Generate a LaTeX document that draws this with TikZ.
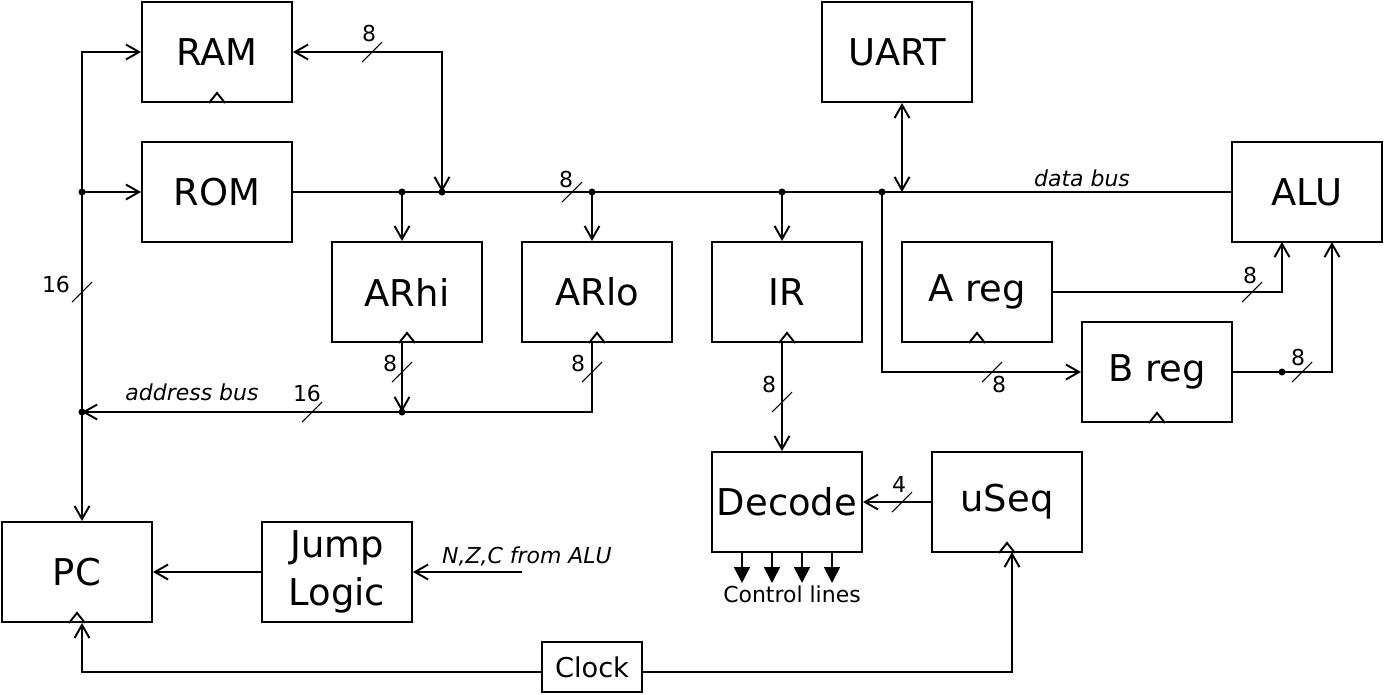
\documentclass[tikz,border=0pt]{standalone}
\usepackage{fontspec}
\setmainfont{DejaVu Sans}
\usepackage{tikz}
\usetikzlibrary{arrows.meta,calc,positioning}
\tikzset{
  >={Straight Barb[length=7.5pt,width=8.5pt]},
  block/.style={rectangle, draw=black, line width=1.1pt, minimum width=3cm,
                minimum height=2cm, inner sep=0pt, text centered,
                font=\fontsize{21}{27}\selectfont},
  clockbox/.style={rectangle, draw=black, line width=1.1pt, minimum width=2cm,
                   minimum height=1cm, inner sep=0pt, font=\fontsize{15.5}{18}\selectfont},
  width/.style={inner sep=0pt, font=\fontsize{12.5}{15}\selectfont},
  busname/.style={inner sep=0pt, font=\fontsize{12.5}{15}\selectfont\itshape},
  tickline/.style={line width=0.6pt},
  ctrl/.style={-{Triangle[length=9pt,width=9pt]}}
}
\newcommand{\clk}[1]{\draw (#1.south) ++(-8,0) -- ++(8,-10) -- ++(8,10);}
\newcommand{\buswidth}[1]{\draw[tickline] #1 +(-10,10) -- +(10,-10);}

\begin{document}
\begin{tikzpicture}[x=0.02cm,y=-0.02cm,line width=1.1pt]
    \useasboundingbox (0,0) rectangle (1384,694);
    % Draw blocks
    \node[block] (ram)  at (217,52)   {RAM};
    \node[block] (rom)  at (217,192)  {ROM};
    \node[block] (arhi) at (407,292)  {ARhi};
    \node[block] (arlo) at (597,292)  {ARlo};
    \node[block] (ir)   at (787,292)  {IR};
    \node[block] (areg) at (977,292)  {A reg};
    \node[block] (breg) at (1157,372) {B reg};
    \node[block] (alu)  at (1307,192) {ALU};
    \node[block] (uart) at (897,52)   {UART};
    \node[block] (dec)  at (787,502)  {Decode};
    \node[block] (useq) at (1007,502) {uSeq};
    \node[block] (pc)   at (77,572)   {PC};
    \node[block,align=center] (jump) at (337,572) {Jump\\Logic};
    \node[clockbox] (clock) at (592,667) {Clock};
    \foreach \b in {ram,arhi,arlo,ir,areg,breg,useq,pc} {\clk{\b}}

    % Bus taps
    \coordinate (dhi)   at (402,192);
    \coordinate (dram)  at (442,192);
    \coordinate (dlo)   at (592,192);
    \coordinate (dir)   at (782,192);
    \coordinate (db)    at (882,192);
    \coordinate (duart) at (902,192);
    \coordinate (jl)    at (82,192);
    \coordinate (ja)    at (82,412);
    \coordinate (alua)  at (1282,242);
    \coordinate (alub)  at (1332,242);
    \coordinate (jb)    at (1282,372);
    \coordinate (sq)    at (1012,552);
    \coordinate (flags) at (522,572);
    \foreach \d in {dhi,dram,dlo,dir,db,jl,ja,jb} \fill (\d) circle (2pt);
    \fill (dhi |- ja) circle (2pt);

    % Data bus
    \draw (rom.east) -- (alu.west);
    \draw [->] (dhi) -- (dhi |- arhi.north);
    \draw [->] (dlo) -- (dlo |- arlo.north);
    \draw [->] (dir) -- (dir |- ir.north);
    \draw [<->] (ram.east) -| (dram);
    \draw [<->] (duart |- uart.south) -- (duart);
    \draw [->] (db) |- (breg.west);
    \draw [->] (areg.east) -| (alua);
    \draw [->] (breg.east) -| (alub);

    % Address bus
    \draw [->] (dlo |- arlo.south) |- (ja);
    \draw [->] (dhi |- arhi.south) -- (dhi |- ja);
    \draw [->] (ja) |- (ram.west);
    \draw [->] (jl) -- (rom.west);
    \draw [->] (ja) -- (ja |- pc.north);

    % Control
    \draw [->] (dir |- ir.south) -- (dir |- dec.north);
    \draw [->] (useq.west) -- (dec.east);
    \draw [->] (jump.west) -- (pc.east);
    \draw [->] (flags) -- (jump.east);
    \draw [->] ([yshift=-0.1cm]clock.west) -| (ja |- pc.south);
    \draw [->] ([yshift=-0.1cm]clock.east) -| (sq);
    \foreach \x in {-45,-15,15,45}
      \draw [ctrl] ([xshift=\x*0.02cm]dec.south) -- ++(0,30);

    % Bus widths
    \buswidth{(372,52)}   \buswidth{(572,192)}  \buswidth{(402,372)}
    \buswidth{(592,372)}  \buswidth{(312,412)}  \buswidth{(82,292)}
    \buswidth{(782,402)}  \buswidth{(992,372)}  \buswidth{(1252,292)}
    \buswidth{(1302,372)} \buswidth{(902,502)}
    \node[width] (w1)  at (369,33)   {8};
    \node[width] (w2)  at (566,179)  {8};
    \node[width] (w3)  at (390,363)  {8};
    \node[width] (w4)  at (578,363)  {8};
    \node[width] (w5)  at (307,393)  {16};
    \node[width] (w6)  at (56,284)   {16};
    \node[width] (w7)  at (769,384)  {8};
    \node[width] (w8)  at (999,384)  {8};
    \node[width] (w9)  at (1250,275) {8};
    \node[width] (w10) at (1298,357) {8};
    \node[width] (w11) at (899,484)  {4};
    \node[busname] (databus) at (1082,178) {data bus};
    \node[busname] (addrbus) at (192,392) {address bus};
    \node[busname] (flagtxt) at (527,556) {N,Z,C from ALU};
    \node[width]   (ctrltxt) at (792,594) {Control lines};
\end{tikzpicture}
\end{document}
